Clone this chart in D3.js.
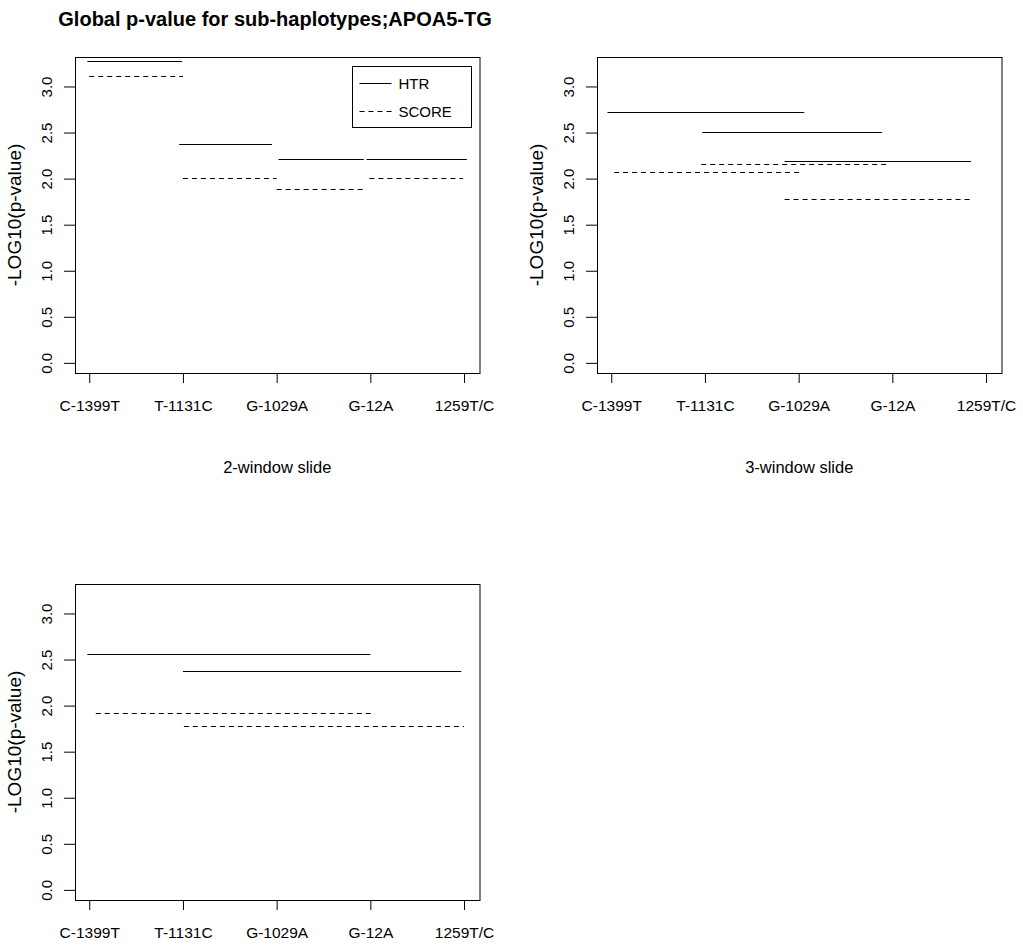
<!DOCTYPE html>
<html>
<head>
<meta charset="utf-8">
<script src="https://cdn.jsdelivr.net/npm/d3@7"></script>
<style>
  body { margin: 0; background: #fff; }
  svg { display: block; font-family: "Liberation Sans", Arial, sans-serif; }
</style>
</head>
<body>
<svg width="1023" height="947"></svg>
<script>
// SNP markers along the x axis
const snps = ["C-1399T", "T-1131C", "G-1029A", "G-12A", "1259T/C"];
const yTicks = [0, 0.5, 1, 1.5, 2, 2.5, 3];

// 2-window slide: segment start, end (marker index) and -log10(p)
const win2From = [0.98, 1.96, 3.02, 3.96];
const win2To = [1.99, 2.95, 3.93, 5.03];
const win2Htr = [3.28, 2.38, 2.21, 2.21];
const win2ScoreFrom = [1.0, 2.0, 3.0, 3.99];
const win2ScoreTo = [2.0, 3.0, 3.94, 4.99];
const win2Score = [3.11, 2.01, 1.89, 2.01];

// 3-window slide
const win3From = [0.96, 1.97, 2.85];
const win3To = [3.06, 3.89, 4.84];
const win3Htr = [2.72, 2.51, 2.19];
const win3ScoreFrom = [1.03, 1.96, 2.85];
const win3ScoreTo = [3.01, 3.94, 4.85];
const win3Score = [2.07, 2.16, 1.78];

// 4-window slide
const win4From = [0.98, 2.0];
const win4To = [4.0, 4.97];
const win4Htr = [2.56, 2.38];
const win4ScoreFrom = [1.07, 2.01];
const win4ScoreTo = [4.05, 5.0];
const win4Score = [1.92, 1.78];

const svg = d3.select("svg");
const panelW = 404.5;
const panelH = 316;

const panels = [
  { left: 75, top: 57, xlab: "2-window slide", legend: true,
    htr: win2Htr.map((v, i) => ({ v, a: win2From[i], b: win2To[i] })),
    score: win2Score.map((v, i) => ({ v, a: win2ScoreFrom[i], b: win2ScoreTo[i] })) },
  { left: 597, top: 57, xlab: "3-window slide", legend: false,
    htr: win3Htr.map((v, i) => ({ v, a: win3From[i], b: win3To[i] })),
    score: win3Score.map((v, i) => ({ v, a: win3ScoreFrom[i], b: win3ScoreTo[i] })) },
  { left: 75, top: 584, xlab: "", legend: false,
    htr: win4Htr.map((v, i) => ({ v, a: win4From[i], b: win4To[i] })),
    score: win4Score.map((v, i) => ({ v, a: win4ScoreFrom[i], b: win4ScoreTo[i] })) }
];

const DASH = "5,4";

svg.append("text")
  .attr("x", 275)
  .attr("y", 26)
  .attr("text-anchor", "middle")
  .attr("font-size", 20)
  .attr("font-weight", "bold")
  .text("Global p-value for sub-haplotypes;APOA5-TG");

panels.forEach(p => {
  const g = svg.append("g").attr("transform", `translate(${p.left},${p.top})`);

  const x = d3.scaleLinear().domain([0.848, 5.165]).range([0, panelW]);
  const y = d3.scaleLinear().domain([-0.11, 3.32]).range([panelH, 0]);

  // y axis, labels parallel to the axis as R draws them
  const ya = g.append("g")
    .call(d3.axisLeft(y).tickValues(yTicks).tickSize(11).tickFormat(d3.format(".1f")));
  ya.select(".domain").remove();
  ya.selectAll("line").attr("stroke", "#000");
  ya.selectAll("text")
    .attr("transform", "rotate(-90)")
    .attr("text-anchor", "middle")
    .attr("x", 0)
    .attr("y", -23)
    .attr("dy", null)
    .attr("font-size", 15)
    .attr("font-family", null)
    .attr("fill", "#000");

  const xa = g.append("g")
    .attr("transform", `translate(0,${panelH})`)
    .call(d3.axisBottom(x).tickValues([1, 2, 3, 4, 5]).tickSize(10).tickPadding(17)
      .tickFormat((d, i) => snps[i]));
  xa.select(".domain").remove();
  xa.selectAll("line").attr("stroke", "#000");
  xa.selectAll("text").attr("font-size", 15.5).attr("font-family", null).attr("fill", "#000");

  g.append("rect")
    .attr("x", 0.5)
    .attr("y", 0.5)
    .attr("width", panelW)
    .attr("height", panelH)
    .attr("fill", "none")
    .attr("stroke", "#000");

  g.append("text")
    .attr("transform", `translate(-54,${panelH / 2}) rotate(-90)`)
    .attr("text-anchor", "middle")
    .attr("font-size", 19)
    .text("-LOG10(p-value)");

  if (p.xlab) {
    g.append("text")
      .attr("x", panelW / 2)
      .attr("y", panelH + 100)
      .attr("text-anchor", "middle")
      .attr("font-size", 16.5)
      .text(p.xlab);
  }

  g.selectAll(".htr")
    .data(p.htr)
    .join("line")
    .attr("x1", d => x(d.a))
    .attr("x2", d => x(d.b))
    .attr("y1", d => Math.round(y(d.v)) + 0.5)
    .attr("y2", d => Math.round(y(d.v)) + 0.5)
    .attr("stroke", "#000");

  g.selectAll(".score")
    .data(p.score)
    .join("line")
    .attr("x1", d => x(d.a))
    .attr("x2", d => x(d.b))
    .attr("y1", d => Math.round(y(d.v)) + 0.5)
    .attr("y2", d => Math.round(y(d.v)) + 0.5)
    .attr("stroke", "#000")
    .attr("stroke-dasharray", DASH);

  if (p.legend) {
    const lg = g.append("g").attr("transform", `translate(${panelW - 127},9.5)`);
    lg.append("rect")
      .attr("width", 119).attr("height", 61)
      .attr("fill", "#fff").attr("stroke", "#000");
    const items = [{ name: "HTR", dash: null }, { name: "SCORE", dash: DASH }];
    items.forEach((it, i) => {
      const yy = 17 + i * 28;
      lg.append("line")
        .attr("x1", 7).attr("x2", 39)
        .attr("y1", yy).attr("y2", yy)
        .attr("stroke", "#000")
        .attr("stroke-dasharray", it.dash);
      lg.append("text")
        .attr("x", 46)
        .attr("y", yy)
        .attr("dy", "0.36em")
        .attr("font-size", 15)
        .text(it.name);
    });
  }
});
</script>
</body>
</html>
